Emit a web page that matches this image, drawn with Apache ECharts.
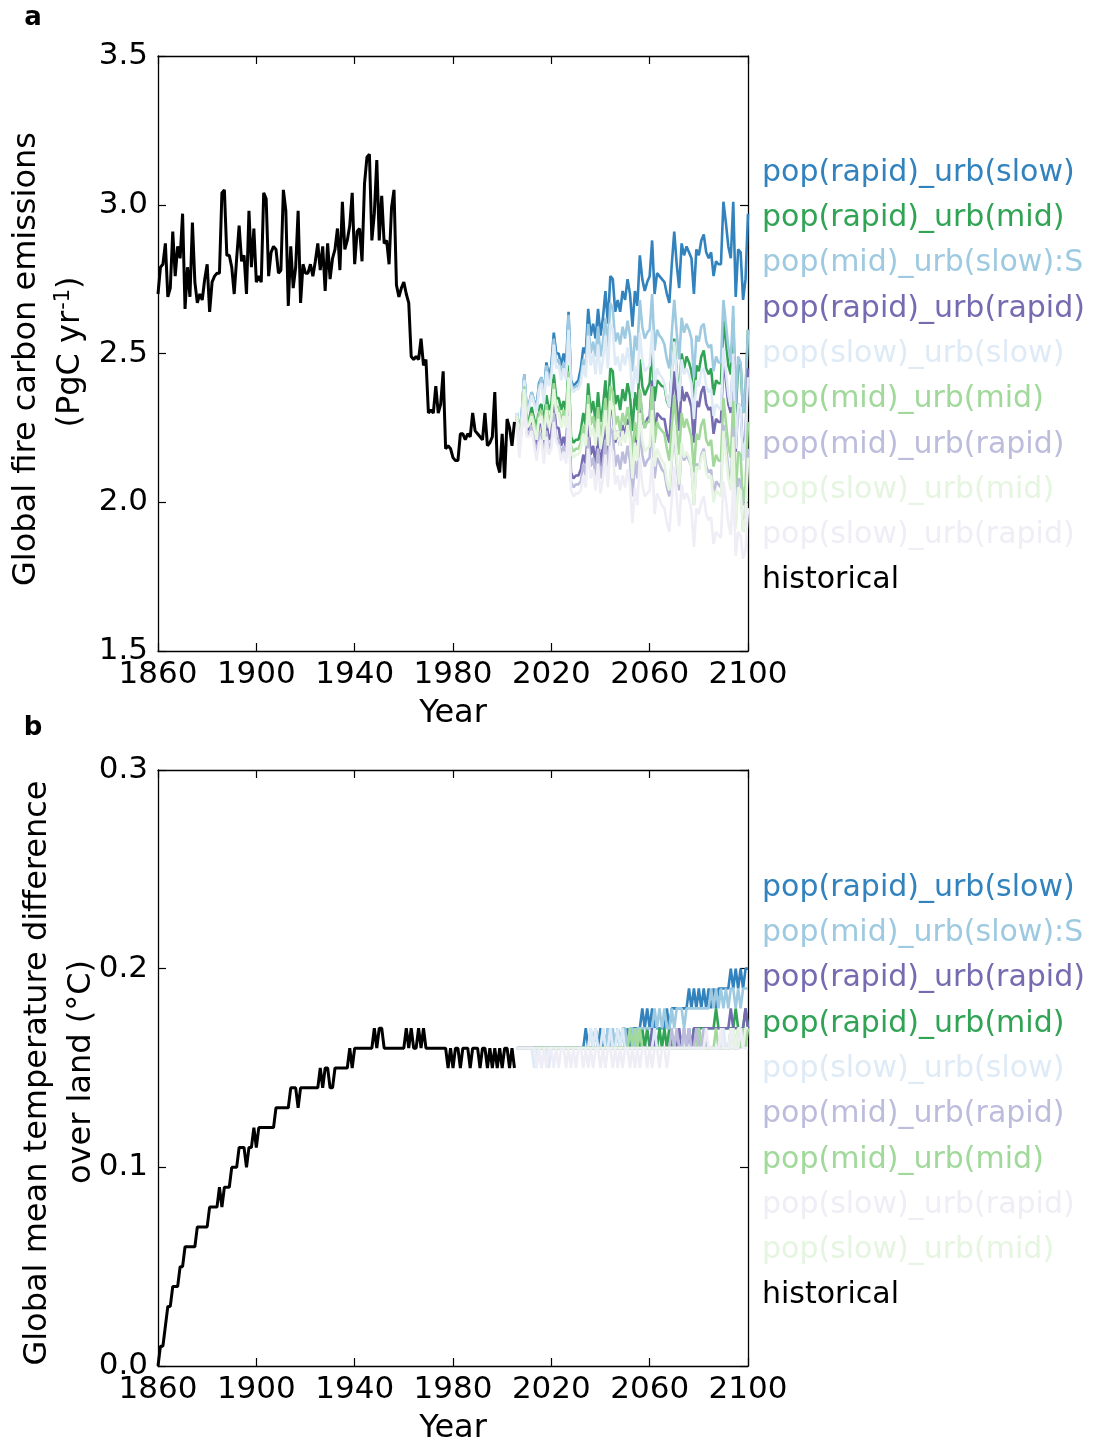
<!DOCTYPE html>
<html>
<head>
<meta charset="utf-8">
<title>Global fire carbon emissions and temperature difference</title>
<script src="https://cdn.jsdelivr.net/npm/echarts/dist/echarts.min.js"></script>
<style>
  html, body { margin: 0; padding: 0; background: #ffffff; }
  #chart { width: 1093px; height: 1441px; }
</style>
</head>
<body>
<div id="chart"></div>
<script>
// ---------------------------------------------------------------
// Data
// ---------------------------------------------------------------
const HIST_START = 1860;   // first year of the historical run
const SCEN_START = 2006;   // first year of the scenario runs
const yearTicks = [1860, 1900, 1940, 1980, 2020, 2060, 2100];

// (a) global fire carbon emissions, PgC yr-1
const histFire = [
  2.70, 2.79, 2.80, 2.87, 2.69, 2.72, 2.91, 2.76, 2.86, 2.82,
  2.97, 2.65, 2.79, 2.69, 2.94, 2.74, 2.67, 2.70, 2.68, 2.75,
  2.80, 2.64, 2.74, 2.76, 2.77, 2.77, 3.04, 3.05, 2.83, 2.83,
  2.79, 2.70, 2.82, 2.93, 2.81, 2.83, 2.70, 2.98, 2.79, 2.92,
  2.74, 2.76, 2.74, 3.04, 3.02, 2.76, 2.84, 2.86, 2.85, 2.77,
  2.78, 3.05, 2.98, 2.66, 2.86, 2.72, 2.79, 2.98, 2.67, 2.80,
  2.77, 2.77, 2.80, 2.76, 2.81, 2.87, 2.78, 2.86, 2.71, 2.87,
  2.75, 2.82, 2.85, 2.92, 2.78, 3.01, 2.85, 2.88, 2.93, 3.04,
  2.80, 2.91, 2.92, 2.81, 3.07, 3.16, 3.17, 2.88, 2.97, 3.15,
  2.88, 3.03, 2.87, 2.88, 2.80, 2.99, 3.05, 2.73, 2.69, 2.72,
  2.74, 2.70, 2.67, 2.49, 2.48, 2.49, 2.48, 2.55, 2.46, 2.48,
  2.30, 2.31, 2.30, 2.39, 2.30, 2.33, 2.44, 2.18, 2.19, 2.18,
  2.15, 2.14, 2.14, 2.23, 2.23, 2.21, 2.23, 2.22, 2.30, 2.24,
  2.23, 2.22, 2.21, 2.30, 2.19, 2.20, 2.22, 2.37, 2.13, 2.10,
  2.23, 2.08, 2.28, 2.25, 2.19, 2.27
];

const fireRapidSlow = [
  2.30, 2.23, 2.30, 2.43, 2.31, 2.33, 2.37, 2.34, 2.32, 2.40,
  2.42, 2.36, 2.47, 2.42, 2.46, 2.57, 2.50, 2.50, 2.46, 2.50,
  2.46, 2.64, 2.41, 2.39, 2.40, 2.41, 2.45, 2.52, 2.50, 2.65,
  2.56, 2.60, 2.55, 2.65, 2.56, 2.62, 2.71, 2.60, 2.76, 2.75,
  2.64, 2.68, 2.64, 2.71, 2.68, 2.75, 2.70, 2.59, 2.71, 2.66,
  2.83, 2.75, 2.71, 2.74, 2.76, 2.88, 2.70, 2.77, 2.76, 2.75,
  2.74, 2.70, 2.67, 2.80, 2.91, 2.80, 2.72, 2.87, 2.83, 2.86,
  2.84, 2.82, 2.70, 2.85, 2.83, 2.88, 2.90, 2.84, 2.82, 2.84,
  2.76, 2.81, 2.80, 2.80, 3.01, 2.94, 2.86, 2.82, 3.01, 2.69,
  2.85, 2.84, 2.68, 2.75, 2.97
];
const fireRapidMid = [
  2.29, 2.20, 2.27, 2.39, 2.27, 2.28, 2.32, 2.28, 2.25, 2.32,
  2.33, 2.26, 2.36, 2.31, 2.33, 2.43, 2.35, 2.35, 2.31, 2.34,
  2.30, 2.46, 2.22, 2.20, 2.21, 2.21, 2.24, 2.30, 2.26, 2.40,
  2.30, 2.34, 2.27, 2.37, 2.27, 2.32, 2.41, 2.30, 2.45, 2.44,
  2.33, 2.36, 2.31, 2.38, 2.34, 2.40, 2.36, 2.24, 2.37, 2.31,
  2.48, 2.39, 2.36, 2.38, 2.40, 2.52, 2.34, 2.41, 2.40, 2.39,
  2.39, 2.34, 2.32, 2.44, 2.55, 2.44, 2.35, 2.50, 2.45, 2.49,
  2.47, 2.44, 2.32, 2.46, 2.44, 2.49, 2.51, 2.45, 2.43, 2.45,
  2.36, 2.41, 2.40, 2.40, 2.61, 2.54, 2.46, 2.43, 2.62, 2.30,
  2.46, 2.46, 2.30, 2.37, 2.58
];
const fireMidSlow = [
  2.30, 2.22, 2.30, 2.43, 2.31, 2.33, 2.37, 2.34, 2.31, 2.39,
  2.42, 2.35, 2.46, 2.41, 2.44, 2.55, 2.47, 2.48, 2.43, 2.47,
  2.43, 2.63, 2.40, 2.38, 2.39, 2.39, 2.42, 2.48, 2.46, 2.60,
  2.50, 2.54, 2.49, 2.59, 2.49, 2.54, 2.62, 2.52, 2.67, 2.65,
  2.54, 2.57, 2.53, 2.59, 2.55, 2.61, 2.56, 2.44, 2.56, 2.51,
  2.68, 2.59, 2.55, 2.57, 2.58, 2.70, 2.51, 2.58, 2.56, 2.55,
  2.53, 2.48, 2.45, 2.57, 2.68, 2.57, 2.48, 2.62, 2.57, 2.60,
  2.58, 2.55, 2.42, 2.56, 2.54, 2.59, 2.60, 2.54, 2.52, 2.53,
  2.44, 2.49, 2.47, 2.47, 2.68, 2.60, 2.52, 2.47, 2.66, 2.33,
  2.49, 2.47, 2.30, 2.37, 2.58
];
const fireRapidRapid = [
  2.28, 2.19, 2.26, 2.37, 2.24, 2.25, 2.28, 2.24, 2.19, 2.26,
  2.26, 2.18, 2.27, 2.21, 2.23, 2.33, 2.25, 2.25, 2.19, 2.22,
  2.18, 2.35, 2.10, 2.08, 2.09, 2.09, 2.11, 2.16, 2.13, 2.26,
  2.16, 2.19, 2.13, 2.22, 2.12, 2.19, 2.27, 2.16, 2.31, 2.30,
  2.20, 2.24, 2.19, 2.26, 2.22, 2.28, 2.24, 2.12, 2.25, 2.19,
  2.37, 2.28, 2.25, 2.28, 2.29, 2.41, 2.22, 2.30, 2.29, 2.28,
  2.28, 2.23, 2.20, 2.33, 2.44, 2.33, 2.24, 2.39, 2.34, 2.37,
  2.35, 2.32, 2.20, 2.34, 2.32, 2.37, 2.39, 2.33, 2.31, 2.32,
  2.23, 2.28, 2.27, 2.27, 2.48, 2.41, 2.33, 2.30, 2.49, 2.17,
  2.33, 2.32, 2.16, 2.23, 2.45
];
const fireSlowSlow = [
  2.30, 2.22, 2.29, 2.41, 2.30, 2.32, 2.36, 2.33, 2.30, 2.38,
  2.40, 2.33, 2.44, 2.39, 2.42, 2.53, 2.45, 2.46, 2.41, 2.45,
  2.41, 2.58, 2.39, 2.37, 2.38, 2.38, 2.40, 2.46, 2.42, 2.56,
  2.46, 2.50, 2.43, 2.53, 2.43, 2.48, 2.56, 2.45, 2.60, 2.58,
  2.46, 2.49, 2.44, 2.50, 2.46, 2.52, 2.47, 2.35, 2.46, 2.40,
  2.57, 2.48, 2.44, 2.45, 2.46, 2.58, 2.39, 2.45, 2.43, 2.42,
  2.40, 2.35, 2.32, 2.43, 2.54, 2.43, 2.34, 2.48, 2.43, 2.45,
  2.43, 2.40, 2.28, 2.41, 2.39, 2.44, 2.45, 2.39, 2.37, 2.38,
  2.29, 2.33, 2.32, 2.31, 2.52, 2.44, 2.36, 2.32, 2.50, 2.18,
  2.33, 2.32, 2.14, 2.21, 2.42
];
const fireMidMid = [
  2.29, 2.20, 2.27, 2.39, 2.26, 2.27, 2.30, 2.27, 2.23, 2.30,
  2.31, 2.23, 2.33, 2.27, 2.30, 2.40, 2.32, 2.32, 2.27, 2.31,
  2.27, 2.44, 2.19, 2.17, 2.18, 2.18, 2.20, 2.26, 2.22, 2.36,
  2.26, 2.29, 2.23, 2.32, 2.22, 2.27, 2.35, 2.24, 2.39, 2.37,
  2.26, 2.29, 2.24, 2.30, 2.26, 2.32, 2.27, 2.15, 2.27, 2.21,
  2.38, 2.29, 2.25, 2.27, 2.27, 2.39, 2.20, 2.27, 2.25, 2.24,
  2.23, 2.18, 2.14, 2.25, 2.36, 2.25, 2.16, 2.30, 2.25, 2.28,
  2.25, 2.22, 2.10, 2.23, 2.21, 2.26, 2.28, 2.21, 2.19, 2.21,
  2.12, 2.16, 2.14, 2.14, 2.35, 2.27, 2.19, 2.15, 2.34, 2.02,
  2.17, 2.16, 1.99, 2.06, 2.27
];
const fireMidRapid = [
  2.28, 2.19, 2.25, 2.35, 2.23, 2.23, 2.26, 2.21, 2.16, 2.23,
  2.23, 2.15, 2.24, 2.18, 2.20, 2.30, 2.22, 2.21, 2.16, 2.19,
  2.15, 2.32, 2.07, 2.05, 2.06, 2.06, 2.07, 2.13, 2.09, 2.22,
  2.12, 2.15, 2.09, 2.18, 2.08, 2.13, 2.21, 2.10, 2.25, 2.23,
  2.12, 2.16, 2.11, 2.17, 2.13, 2.19, 2.14, 2.02, 2.14, 2.08,
  2.25, 2.16, 2.12, 2.14, 2.15, 2.27, 2.08, 2.15, 2.13, 2.11,
  2.10, 2.05, 2.02, 2.14, 2.24, 2.13, 2.04, 2.19, 2.14, 2.16,
  2.14, 2.12, 1.99, 2.13, 2.11, 2.16, 2.18, 2.12, 2.10, 2.11,
  2.02, 2.07, 2.06, 2.05, 2.26, 2.19, 2.11, 2.06, 2.25, 1.93,
  2.08, 2.07, 1.90, 1.96, 2.18
];
const fireSlowMid = [
  2.29, 2.20, 2.26, 2.38, 2.25, 2.26, 2.29, 2.25, 2.21, 2.28,
  2.29, 2.21, 2.31, 2.25, 2.28, 2.38, 2.30, 2.30, 2.25, 2.29,
  2.25, 2.42, 2.17, 2.15, 2.16, 2.16, 2.18, 2.23, 2.19, 2.33,
  2.22, 2.25, 2.19, 2.28, 2.18, 2.23, 2.31, 2.19, 2.34, 2.32,
  2.21, 2.24, 2.19, 2.24, 2.20, 2.26, 2.21, 2.08, 2.20, 2.14,
  2.30, 2.21, 2.17, 2.18, 2.19, 2.31, 2.12, 2.18, 2.16, 2.14,
  2.13, 2.07, 2.04, 2.15, 2.26, 2.15, 2.06, 2.20, 2.15, 2.17,
  2.15, 2.12, 1.99, 2.12, 2.11, 2.15, 2.17, 2.10, 2.08, 2.09,
  2.00, 2.04, 2.03, 2.02, 2.24, 2.16, 2.08, 2.04, 2.22, 1.91,
  2.05, 2.04, 1.90, 1.95, 2.15
];
const fireSlowRapid = [
  2.27, 2.15, 2.24, 2.33, 2.22, 2.22, 2.24, 2.19, 2.14, 2.20,
  2.21, 2.13, 2.22, 2.16, 2.18, 2.27, 2.20, 2.19, 2.14, 2.17,
  2.13, 2.29, 2.04, 2.02, 2.03, 2.03, 2.04, 2.09, 2.05, 2.18,
  2.08, 2.11, 2.04, 2.13, 2.03, 2.08, 2.16, 2.05, 2.19, 2.17,
  2.06, 2.09, 2.04, 2.09, 2.05, 2.11, 2.06, 1.93, 2.05, 1.99,
  2.15, 2.06, 2.02, 2.03, 2.04, 2.15, 1.96, 2.03, 2.01, 1.99,
  1.98, 1.93, 1.90, 2.01, 2.12, 2.01, 1.92, 2.06, 2.01, 2.03,
  2.01, 1.97, 1.85, 1.98, 1.96, 2.00, 2.02, 1.96, 1.94, 1.95,
  1.86, 1.90, 1.89, 1.88, 2.07, 2.01, 1.93, 1.89, 2.06, 1.82,
  1.90, 1.89, 1.81, 1.84, 1.98
];

// (b) global mean temperature difference over land, degC
const histTemp = [
  0.00, 0.01, 0.01, 0.02, 0.03, 0.03, 0.04, 0.04, 0.04, 0.05,
  0.05, 0.06, 0.06, 0.06, 0.06, 0.06, 0.07, 0.07, 0.07, 0.07,
  0.07, 0.08, 0.08, 0.08, 0.08, 0.09, 0.08, 0.09, 0.09, 0.09,
  0.10, 0.10, 0.10, 0.11, 0.11, 0.11, 0.10, 0.11, 0.11, 0.12,
  0.11, 0.12, 0.12, 0.12, 0.12, 0.12, 0.12, 0.12, 0.13, 0.13,
  0.13, 0.13, 0.13, 0.13, 0.14, 0.14, 0.14, 0.13, 0.14, 0.14,
  0.14, 0.14, 0.14, 0.14, 0.14, 0.14, 0.15, 0.14, 0.15, 0.15,
  0.14, 0.14, 0.15, 0.15, 0.15, 0.15, 0.15, 0.15, 0.16, 0.15,
  0.16, 0.16, 0.16, 0.16, 0.16, 0.16, 0.16, 0.16, 0.17, 0.16,
  0.17, 0.17, 0.16, 0.16, 0.16, 0.16, 0.16, 0.16, 0.16, 0.16,
  0.16, 0.17, 0.16, 0.17, 0.16, 0.16, 0.17, 0.16, 0.17, 0.16,
  0.16, 0.16, 0.16, 0.16, 0.16, 0.16, 0.16, 0.16, 0.15, 0.16,
  0.15, 0.16, 0.16, 0.15, 0.16, 0.16, 0.16, 0.15, 0.16, 0.16,
  0.16, 0.15, 0.16, 0.16, 0.15, 0.16, 0.15, 0.16, 0.15, 0.16,
  0.15, 0.16, 0.16, 0.15, 0.16, 0.15
];

const tempRapidSlow = [
  0.16, 0.16, 0.16, 0.16, 0.16, 0.16, 0.16, 0.16, 0.16, 0.16,
  0.16, 0.16, 0.16, 0.16, 0.16, 0.16, 0.16, 0.16, 0.16, 0.16,
  0.16, 0.16, 0.16, 0.16, 0.16, 0.16, 0.16, 0.16, 0.17, 0.16,
  0.16, 0.16, 0.17, 0.16, 0.17, 0.16, 0.16, 0.17, 0.16, 0.16,
  0.16, 0.17, 0.16, 0.17, 0.16, 0.17, 0.16, 0.17, 0.17, 0.17,
  0.17, 0.18, 0.17, 0.18, 0.17, 0.18, 0.17, 0.17, 0.17, 0.17,
  0.17, 0.18, 0.17, 0.18, 0.18, 0.18, 0.18, 0.18, 0.18, 0.18,
  0.19, 0.18, 0.19, 0.18, 0.19, 0.18, 0.19, 0.18, 0.19, 0.18,
  0.19, 0.18, 0.19, 0.19, 0.19, 0.19, 0.19, 0.20, 0.19, 0.20,
  0.19, 0.20, 0.19, 0.20, 0.20
];
const tempMidSlow = [
  0.16, 0.16, 0.16, 0.16, 0.16, 0.16, 0.16, 0.16, 0.16, 0.16,
  0.16, 0.16, 0.16, 0.16, 0.16, 0.16, 0.16, 0.16, 0.16, 0.16,
  0.16, 0.16, 0.16, 0.16, 0.16, 0.16, 0.16, 0.16, 0.16, 0.16,
  0.17, 0.16, 0.17, 0.16, 0.16, 0.17, 0.16, 0.17, 0.16, 0.17,
  0.16, 0.17, 0.16, 0.17, 0.17, 0.16, 0.17, 0.17, 0.16, 0.17,
  0.17, 0.17, 0.17, 0.17, 0.17, 0.17, 0.18, 0.17, 0.18, 0.17,
  0.18, 0.17, 0.17, 0.18, 0.17, 0.18, 0.18, 0.18, 0.17, 0.18,
  0.18, 0.18, 0.18, 0.18, 0.18, 0.18, 0.18, 0.18, 0.18, 0.19,
  0.18, 0.19, 0.18, 0.19, 0.18, 0.19, 0.18, 0.19, 0.19, 0.18,
  0.19, 0.18, 0.19, 0.19, 0.19
];
const tempRapidRapid = [
  0.16, 0.16, 0.16, 0.16, 0.16, 0.16, 0.16, 0.16, 0.16, 0.16,
  0.16, 0.16, 0.16, 0.16, 0.16, 0.16, 0.16, 0.16, 0.16, 0.16,
  0.16, 0.16, 0.16, 0.16, 0.16, 0.16, 0.16, 0.16, 0.16, 0.16,
  0.16, 0.16, 0.16, 0.16, 0.16, 0.16, 0.16, 0.16, 0.16, 0.16,
  0.16, 0.16, 0.16, 0.16, 0.16, 0.16, 0.16, 0.16, 0.16, 0.16,
  0.16, 0.16, 0.16, 0.16, 0.16, 0.17, 0.16, 0.16, 0.16, 0.16,
  0.16, 0.16, 0.16, 0.16, 0.16, 0.16, 0.17, 0.16, 0.17, 0.16,
  0.17, 0.16, 0.17, 0.17, 0.17, 0.16, 0.17, 0.17, 0.17, 0.17,
  0.17, 0.17, 0.17, 0.17, 0.17, 0.17, 0.17, 0.18, 0.17, 0.17,
  0.17, 0.17, 0.17, 0.18, 0.17
];
const tempRapidMid = [
  0.16, 0.16, 0.16, 0.16, 0.16, 0.16, 0.16, 0.16, 0.16, 0.16,
  0.16, 0.16, 0.16, 0.16, 0.16, 0.16, 0.16, 0.16, 0.16, 0.16,
  0.16, 0.16, 0.16, 0.16, 0.16, 0.16, 0.16, 0.16, 0.16, 0.16,
  0.16, 0.16, 0.16, 0.16, 0.16, 0.16, 0.16, 0.16, 0.16, 0.16,
  0.16, 0.16, 0.16, 0.16, 0.16, 0.16, 0.17, 0.16, 0.17, 0.16,
  0.16, 0.17, 0.16, 0.17, 0.16, 0.16, 0.16, 0.16, 0.17, 0.16,
  0.17, 0.16, 0.17, 0.16, 0.16, 0.16, 0.16, 0.16, 0.16, 0.16,
  0.16, 0.16, 0.17, 0.17, 0.17, 0.17, 0.17, 0.17, 0.17, 0.17,
  0.17, 0.18, 0.17, 0.17, 0.17, 0.17, 0.17, 0.17, 0.17, 0.18,
  0.17, 0.17, 0.17, 0.18, 0.17
];
const tempSlowSlow = [
  0.16, 0.16, 0.16, 0.16, 0.16, 0.16, 0.16, 0.15, 0.16, 0.16,
  0.15, 0.16, 0.16, 0.15, 0.16, 0.16, 0.16, 0.16, 0.16, 0.16,
  0.16, 0.16, 0.16, 0.16, 0.16, 0.16, 0.16, 0.16, 0.16, 0.16,
  0.17, 0.16, 0.17, 0.16, 0.16, 0.17, 0.16, 0.16, 0.17, 0.16,
  0.16, 0.17, 0.16, 0.17, 0.16, 0.16, 0.16, 0.16, 0.16, 0.16,
  0.16, 0.16, 0.16, 0.16, 0.16, 0.16, 0.17, 0.16, 0.16, 0.16,
  0.16, 0.16, 0.16, 0.16, 0.16, 0.16, 0.16, 0.16, 0.17, 0.16,
  0.16, 0.16, 0.16, 0.16, 0.16, 0.16, 0.17, 0.16, 0.16, 0.16,
  0.16, 0.16, 0.16, 0.16, 0.17, 0.16, 0.16, 0.16, 0.16, 0.16,
  0.16, 0.16, 0.17, 0.16, 0.16
];
const tempMidMid = [
  0.16, 0.16, 0.16, 0.16, 0.16, 0.16, 0.16, 0.16, 0.16, 0.16,
  0.16, 0.16, 0.16, 0.16, 0.16, 0.16, 0.16, 0.16, 0.16, 0.16,
  0.16, 0.16, 0.16, 0.16, 0.16, 0.16, 0.16, 0.16, 0.16, 0.16,
  0.16, 0.16, 0.16, 0.16, 0.16, 0.16, 0.16, 0.16, 0.16, 0.16,
  0.16, 0.16, 0.16, 0.16, 0.16, 0.16, 0.17, 0.16, 0.17, 0.16,
  0.17, 0.16, 0.16, 0.16, 0.16, 0.16, 0.16, 0.16, 0.16, 0.16,
  0.16, 0.16, 0.16, 0.16, 0.16, 0.16, 0.16, 0.16, 0.16, 0.16,
  0.16, 0.16, 0.16, 0.16, 0.17, 0.16, 0.16, 0.16, 0.16, 0.16,
  0.16, 0.17, 0.16, 0.16, 0.16, 0.16, 0.16, 0.17, 0.16, 0.16,
  0.17, 0.16, 0.17, 0.16, 0.17
];
const tempMidRapid = [
  0.16, 0.16, 0.16, 0.16, 0.16, 0.16, 0.16, 0.16, 0.16, 0.16,
  0.16, 0.16, 0.16, 0.16, 0.16, 0.16, 0.16, 0.16, 0.16, 0.16,
  0.16, 0.16, 0.16, 0.16, 0.16, 0.16, 0.16, 0.16, 0.16, 0.16,
  0.16, 0.16, 0.16, 0.16, 0.16, 0.16, 0.16, 0.16, 0.16, 0.16,
  0.16, 0.16, 0.16, 0.16, 0.16, 0.16, 0.16, 0.16, 0.16, 0.16,
  0.16, 0.16, 0.16, 0.16, 0.16, 0.16, 0.16, 0.16, 0.16, 0.16,
  0.16, 0.16, 0.16, 0.17, 0.16, 0.17, 0.16, 0.16, 0.17, 0.16,
  0.17, 0.16, 0.16, 0.17, 0.16, 0.16, 0.17, 0.16, 0.16, 0.16,
  0.16, 0.16, 0.16, 0.16, 0.16, 0.16, 0.16, 0.16, 0.17, 0.16,
  0.16, 0.17, 0.16, 0.17, 0.17
];
const tempSlowMid = [
  0.16, 0.16, 0.16, 0.16, 0.16, 0.16, 0.16, 0.16, 0.16, 0.16,
  0.16, 0.16, 0.16, 0.16, 0.16, 0.16, 0.16, 0.16, 0.16, 0.16,
  0.16, 0.16, 0.16, 0.16, 0.16, 0.16, 0.16, 0.16, 0.16, 0.16,
  0.16, 0.16, 0.16, 0.16, 0.16, 0.16, 0.16, 0.16, 0.16, 0.16,
  0.16, 0.16, 0.16, 0.16, 0.16, 0.16, 0.16, 0.16, 0.16, 0.16,
  0.16, 0.16, 0.16, 0.16, 0.16, 0.16, 0.16, 0.16, 0.16, 0.16,
  0.16, 0.16, 0.16, 0.16, 0.16, 0.16, 0.16, 0.16, 0.16, 0.16,
  0.16, 0.16, 0.16, 0.16, 0.16, 0.16, 0.16, 0.16, 0.16, 0.16,
  0.16, 0.16, 0.16, 0.16, 0.16, 0.16, 0.16, 0.16, 0.17, 0.16,
  0.17, 0.17, 0.16, 0.17, 0.17
];
const tempSlowRapid = [
  0.16, 0.16, 0.16, 0.16, 0.16, 0.16, 0.16, 0.16, 0.15, 0.16,
  0.15, 0.16, 0.15, 0.16, 0.16, 0.15, 0.16, 0.15, 0.16, 0.16,
  0.15, 0.16, 0.15, 0.16, 0.15, 0.16, 0.16, 0.15, 0.16, 0.15,
  0.16, 0.15, 0.16, 0.16, 0.15, 0.16, 0.15, 0.16, 0.16, 0.15,
  0.16, 0.15, 0.16, 0.15, 0.16, 0.16, 0.15, 0.16, 0.15, 0.16,
  0.15, 0.16, 0.16, 0.15, 0.16, 0.15, 0.16, 0.16, 0.15, 0.16,
  0.16, 0.15, 0.16, 0.16, 0.16, 0.16, 0.16, 0.16, 0.16, 0.16,
  0.16, 0.16, 0.16, 0.16, 0.16, 0.16, 0.16, 0.17, 0.16, 0.16,
  0.16, 0.16, 0.16, 0.17, 0.16, 0.16, 0.16, 0.17, 0.16, 0.16,
  0.16, 0.17, 0.16, 0.16, 0.16
];

// Scenario names, line colours and their two data sets (drawing order)
const scenarios = [
  { name: 'pop(rapid)_urb(slow)',  color: '#3182bd', fire: fireRapidSlow,  temp: tempRapidSlow },
  { name: 'pop(rapid)_urb(mid)',   color: '#31a354', fire: fireRapidMid,   temp: tempRapidMid },
  { name: 'pop(mid)_urb(slow):S',  color: '#9ecae1', fire: fireMidSlow,    temp: tempMidSlow },
  { name: 'pop(rapid)_urb(rapid)', color: '#756bb1', fire: fireRapidRapid, temp: tempRapidRapid },
  { name: 'pop(slow)_urb(slow)',   color: '#deebf7', fire: fireSlowSlow,   temp: tempSlowSlow },
  { name: 'pop(mid)_urb(mid)',     color: '#a1d99b', fire: fireMidMid,     temp: tempMidMid },
  { name: 'pop(mid)_urb(rapid)',   color: '#bcbddc', fire: fireMidRapid,   temp: tempMidRapid },
  { name: 'pop(slow)_urb(mid)',    color: '#e5f5e0', fire: fireSlowMid,    temp: tempSlowMid },
  { name: 'pop(slow)_urb(rapid)',  color: '#efedf5', fire: fireSlowRapid,  temp: tempSlowRapid }
];
const HIST_NAME = 'historical';

// Legend order of each panel
const legendOrderA = [
  'pop(rapid)_urb(slow)', 'pop(rapid)_urb(mid)', 'pop(mid)_urb(slow):S',
  'pop(rapid)_urb(rapid)', 'pop(slow)_urb(slow)', 'pop(mid)_urb(mid)',
  'pop(mid)_urb(rapid)', 'pop(slow)_urb(mid)', 'pop(slow)_urb(rapid)', 'historical'
];
const legendOrderB = [
  'pop(rapid)_urb(slow)', 'pop(mid)_urb(slow):S', 'pop(rapid)_urb(rapid)',
  'pop(rapid)_urb(mid)', 'pop(slow)_urb(slow)', 'pop(mid)_urb(rapid)',
  'pop(mid)_urb(mid)', 'pop(slow)_urb(rapid)', 'pop(slow)_urb(mid)', 'historical'
];

// ---------------------------------------------------------------
// Chart
// ---------------------------------------------------------------
const FONT = 'DejaVu Sans';
const INK = '#000000';
const TITLE_SIZE = 32;
const TICK_SIZE = 31;

function withYears(start, values) {
  return values.map((v, i) => [start + i, v]);
}
function colorOf(name) {
  if (name === HIST_NAME) return INK;
  return scenarios.find(s => s.name === name).color;
}

const grids = [
  { left: 158, top: 56,  width: 590, height: 595 },
  { left: 158, top: 770, width: 590, height: 596 }
];

function xAxesFor(gridIndex) {
  const common = {
    gridIndex, type: 'value', min: 1860, max: 2100,
    splitLine: { show: false },
    axisLine: { show: true, onZero: false, lineStyle: { color: INK, width: 1.3 } },
    axisTick: { show: true, inside: true, length: 8, customValues: yearTicks, lineStyle: { color: INK, width: 1.2 } }
  };
  return [
    Object.assign({}, common, {
      position: 'bottom',
      axisLabel: { show: true, customValues: yearTicks, margin: 8, fontSize: TICK_SIZE, fontFamily: FONT, color: INK,
                   formatter: v => String(v) },
      name: 'Year', nameLocation: 'middle', nameGap: 47,
      nameTextStyle: { fontSize: TITLE_SIZE, fontFamily: FONT, color: INK }
    }),
    Object.assign({}, common, { position: 'top', axisLabel: { show: false } })
  ];
}
function yAxesFor(gridIndex, min, max, interval) {
  const common = {
    gridIndex, type: 'value', min, max, interval,
    splitLine: { show: false },
    axisLine: { show: true, onZero: false, lineStyle: { color: INK, width: 1.3 } },
    axisTick: { show: true, inside: true, length: 8, lineStyle: { color: INK, width: 1.2 } }
  };
  return [
    Object.assign({}, common, {
      position: 'left',
      axisLabel: { show: true, margin: 10, fontSize: TICK_SIZE, fontFamily: FONT, color: INK,
                   formatter: v => v.toFixed(1) }
    }),
    Object.assign({}, common, { position: 'right', axisLabel: { show: false } })
  ];
}

const series = [];
// panel (a): fire carbon emissions, axes x0 / y0
scenarios.forEach(s => series.push({
  name: s.name, type: 'line', xAxisIndex: 0, yAxisIndex: 0,
  data: withYears(SCEN_START, s.fire),
  showSymbol: false, symbol: 'none', silent: true,
  lineStyle: { color: s.color, width: 2.6 }, itemStyle: { color: s.color }
}));
series.push({
  name: HIST_NAME, type: 'line', xAxisIndex: 0, yAxisIndex: 0,
  data: withYears(HIST_START, histFire),
  showSymbol: false, symbol: 'none', silent: true,
  lineStyle: { color: INK, width: 3 }, itemStyle: { color: INK }
});
// panel (b): temperature difference, axes x2 / y2
scenarios.forEach(s => series.push({
  name: s.name, type: 'line', xAxisIndex: 2, yAxisIndex: 2,
  data: withYears(SCEN_START, s.temp),
  showSymbol: false, symbol: 'none', silent: true,
  lineStyle: { color: s.color, width: 2.6 }, itemStyle: { color: s.color }
}));
series.push({
  name: HIST_NAME, type: 'line', xAxisIndex: 2, yAxisIndex: 2,
  data: withYears(HIST_START, histTemp),
  showSymbol: false, symbol: 'none', silent: true,
  lineStyle: { color: INK, width: 3 }, itemStyle: { color: INK }
});

function legendAt(top, order) {
  return {
    orient: 'vertical', left: 757, top,
    icon: 'none', itemWidth: 0, itemHeight: 10, itemGap: 9.3,
    selectedMode: false, padding: 0,
    textStyle: { fontSize: 30, fontFamily: FONT, lineHeight: 36 },
    data: order.map(n => ({ name: n, textStyle: { color: colorOf(n) } }))
  };
}

function rotatedTitle(x, y, text, rich) {
  const style = { text, fontSize: TITLE_SIZE, fontFamily: FONT, fill: INK, align: 'center', verticalAlign: 'middle' };
  if (rich) { style.rich = rich; style.lineHeight = 40; }
  return { type: 'text', x, y, rotation: Math.PI / 2, silent: true, style };
}

const unitRich = {
  u: { fontSize: TITLE_SIZE, fontFamily: FONT, fill: INK, lineHeight: 40, verticalAlign: 'middle' },
  s: { fontSize: 21, fontFamily: FONT, fill: INK, lineHeight: 40, verticalAlign: 'top', padding: [2, 0, 0, 1] }
};

const option = {
  animation: false,
  backgroundColor: '#ffffff',
  textStyle: { fontFamily: FONT },
  grid: grids.map(g => Object.assign({ outerBoundsMode: 'none' }, g)),
  xAxis: [...xAxesFor(0), ...xAxesFor(1)],
  yAxis: [...yAxesFor(0, 1.5, 3.5, 0.5), ...yAxesFor(1, 0, 0.3, 0.1)],
  legend: [legendAt(155, legendOrderA), legendAt(870, legendOrderB)],
  series,
  graphic: [
    { type: 'text', x: 33, y: 18, silent: true,
      style: { text: 'a', fontSize: 26, fontWeight: 'bold', fontFamily: FONT, fill: INK, align: 'center', verticalAlign: 'middle' } },
    { type: 'text', x: 33, y: 728, silent: true,
      style: { text: 'b', fontSize: 26, fontWeight: 'bold', fontFamily: FONT, fill: INK, align: 'center', verticalAlign: 'middle' } },
    rotatedTitle(27, 359, 'Global fire carbon emissions'),
    rotatedTitle(71, 352, '{u|(PgC yr}{s|-1}{u|)}', unitRich),
    rotatedTitle(38, 1073, 'Global mean temperature difference'),
    rotatedTitle(82, 1072, 'over land (\u00B0C)')
  ]
};

const chart = echarts.init(document.getElementById('chart'), null, { renderer: 'canvas' });
chart.setOption(option);
</script>
</body>
</html>
